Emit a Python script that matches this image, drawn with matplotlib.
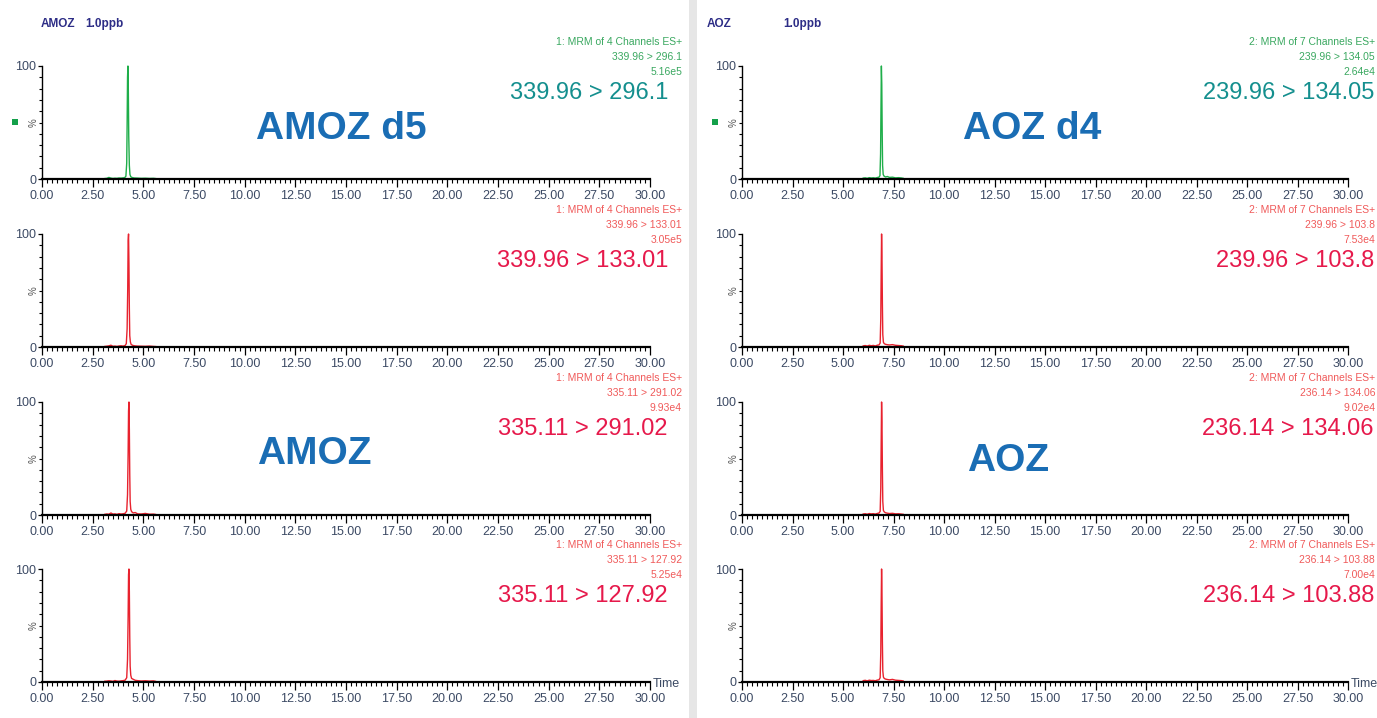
import numpy as np
import matplotlib
matplotlib.use("Agg")
import matplotlib.pyplot as plt
from matplotlib.patches import Rectangle
from matplotlib.ticker import MultipleLocator

plt.rcParams['font.family'] = ['Liberation Sans', 'DejaVu Sans']

# ---- data (time in min, intensity in %) ----
amoz_d5_t = [3.10, 3.20, 3.30, 3.40, 3.50, 3.60, 3.70, 3.80, 3.90, 4.00, 4.08, 4.14, 4.18, 4.20,
             4.22, 4.24, 4.26, 4.28, 4.31, 4.34, 4.38, 4.45, 4.55, 4.70, 4.90, 5.10, 5.30, 5.50, 5.60]
amoz_d5_y = [0.4, 0.6, 1.4, 0.8, 0.5, 0.7, 0.6, 0.9, 0.8, 1.0, 1.2, 2.5, 14, 48,
             90, 100, 78, 38, 12, 4.0, 2.0, 1.3, 0.9, 0.8, 0.6, 0.7, 0.5, 0.6, 0.4]

amoz_d5_q_t = [3.10, 3.20, 3.30, 3.40, 3.50, 3.60, 3.70, 3.80, 3.90, 4.00, 4.10, 4.16, 4.20, 4.23,
               4.25, 4.27, 4.29, 4.31, 4.33, 4.36, 4.40, 4.48, 4.58, 4.70, 4.90, 5.10, 5.30, 5.50, 5.60]
amoz_d5_q_y = [0.5, 0.7, 1.0, 1.6, 0.6, 0.8, 0.5, 0.9, 1.1, 0.8, 1.3, 3.0, 16, 52,
               94, 100, 74, 34, 10, 4.5, 2.2, 1.4, 1.0, 0.8, 0.7, 0.6, 0.8, 0.5, 0.4]

amoz_t = [3.10, 3.20, 3.30, 3.40, 3.50, 3.60, 3.70, 3.80, 3.90, 4.00, 4.10, 4.18, 4.22, 4.25,
          4.27, 4.29, 4.31, 4.33, 4.35, 4.38, 4.42, 4.50, 4.60, 4.72, 4.90, 5.10, 5.30, 5.50, 5.60]
amoz_y = [0.6, 0.9, 0.7, 1.8, 0.8, 1.0, 0.6, 1.2, 0.9, 1.1, 1.5, 3.5, 18, 55,
          92, 100, 76, 36, 12, 5.0, 3.0, 1.8, 2.2, 1.0, 0.9, 1.4, 0.7, 0.8, 0.5]

amoz_q_t = [3.10, 3.20, 3.30, 3.40, 3.50, 3.60, 3.70, 3.80, 3.90, 4.00, 4.10, 4.18, 4.22, 4.25,
            4.27, 4.29, 4.31, 4.33, 4.35, 4.38, 4.42, 4.50, 4.60, 4.72, 4.90, 5.10, 5.30, 5.50, 5.60]
amoz_q_y = [0.7, 0.8, 1.1, 0.9, 0.6, 1.3, 0.8, 0.7, 1.0, 1.2, 1.6, 3.8, 20, 58,
            95, 100, 80, 40, 14, 6.0, 3.2, 2.4, 1.5, 1.2, 0.9, 1.1, 0.8, 1.0, 0.6]

aoz_d4_t = [6.00, 6.10, 6.20, 6.30, 6.40, 6.50, 6.60, 6.70, 6.78, 6.83, 6.86, 6.88, 6.90, 6.92,
            6.94, 6.96, 6.99, 7.03, 7.10, 7.20, 7.30, 7.45, 7.60, 7.75, 7.90, 7.98]
aoz_d4_y = [0.8, 1.0, 0.6, 1.2, 0.9, 1.1, 0.8, 1.3, 1.6, 3.0, 22, 62, 100, 84,
            42, 12, 4.0, 2.6, 1.8, 2.2, 1.4, 1.6, 1.0, 1.2, 0.9, 0.6]

aoz_d4_q_t = [6.00, 6.10, 6.20, 6.30, 6.40, 6.50, 6.60, 6.70, 6.78, 6.84, 6.87, 6.89, 6.91, 6.93,
              6.95, 6.97, 7.00, 7.04, 7.10, 7.20, 7.30, 7.45, 7.60, 7.75, 7.90, 7.98]
aoz_d4_q_y = [1.0, 1.3, 0.8, 1.5, 1.1, 1.4, 0.9, 1.6, 1.8, 3.5, 25, 66, 100, 80,
              38, 11, 4.2, 3.0, 2.4, 2.0, 1.8, 2.1, 1.5, 1.3, 1.1, 0.8]

aoz_t = [6.00, 6.10, 6.20, 6.30, 6.40, 6.50, 6.60, 6.70, 6.78, 6.84, 6.87, 6.89, 6.91, 6.93,
         6.95, 6.97, 7.00, 7.04, 7.10, 7.20, 7.30, 7.45, 7.60, 7.75, 7.90, 7.98]
aoz_y = [0.9, 1.1, 0.7, 1.3, 1.0, 1.2, 0.8, 1.4, 1.7, 3.2, 24, 64, 100, 82,
         40, 12, 4.0, 2.8, 2.0, 1.6, 1.3, 1.5, 1.0, 1.1, 0.8, 0.6]

aoz_q_t = [6.00, 6.10, 6.20, 6.30, 6.40, 6.50, 6.60, 6.70, 6.78, 6.84, 6.87, 6.89, 6.91, 6.93,
           6.95, 6.97, 7.00, 7.04, 7.10, 7.20, 7.30, 7.45, 7.60, 7.75, 7.90, 7.98]
aoz_q_y = [1.2, 1.5, 1.0, 1.6, 1.3, 1.4, 1.1, 1.7, 1.9, 3.8, 26, 68, 100, 78,
           36, 10, 4.4, 3.2, 2.6, 2.2, 1.9, 2.3, 1.6, 1.4, 1.2, 0.9]

left_traces = [(amoz_d5_t, amoz_d5_y), (amoz_d5_q_t, amoz_d5_q_y), (amoz_t, amoz_y), (amoz_q_t, amoz_q_y)]
right_traces = [(aoz_d4_t, aoz_d4_y), (aoz_d4_q_t, aoz_d4_q_y), (aoz_t, aoz_y), (aoz_q_t, aoz_q_y)]

left_channel = "1: MRM of 4 Channels ES+"
right_channel = "2: MRM of 7 Channels ES+"
left_transitions = ["339.96 > 296.1", "339.96 > 133.01", "335.11 > 291.02", "335.11 > 127.92"]
right_transitions = ["239.96 > 134.05", "239.96 > 103.8", "236.14 > 134.06", "236.14 > 103.88"]
left_scales = ["5.16e5", "3.05e5", "9.93e4", "5.25e4"]
right_scales = ["2.64e4", "7.53e4", "9.02e4", "7.00e4"]

# ---- layout (pixels) ----
W, H = 1377, 718
row_top = [66, 234, 402, 569]
row_bot = [179, 347, 515, 682]
col_x = [(42, 650), (742, 1348)]
small_right = [682, 1375]
big_right = [668, 1374]

GREEN = '#1fae4a'
RED = '#e8222e'
SMALL_GREEN = '#3aa860'
SMALL_RED = '#f05a5a'
TEAL = '#148f8e'
CRIMSON = '#e6194b'
BLUE = '#1a6db4'
NAVY = '#2d2d86'
TICK = '#3c4a64'


def fx(x):
    return x / W


def fy(y):
    return 1 - y / H


fig = plt.figure(figsize=(W / 100, H / 100), dpi=100)
fig.patch.set_facecolor('white')

# grey divider between the two halves
fig.patches.append(Rectangle((fx(689), 0), fx(8), 1, transform=fig.transFigure,
                             facecolor='#e6e6e6', edgecolor='none', zorder=0))

# titles
fig.text(fx(41), fy(24), "AMOZ", color=NAVY, fontsize=8.5, fontweight='bold', va='center')
fig.text(fx(85), fy(24), "1.0ppb", color=NAVY, fontsize=8.5, fontweight='bold', va='center')
fig.text(fx(707), fy(24), "AOZ", color=NAVY, fontsize=8.5, fontweight='bold', va='center')
fig.text(fx(783), fy(24), "1.0ppb", color=NAVY, fontsize=8.5, fontweight='bold', va='center')

for c, (traces, channel, transitions, scales) in enumerate(
        [(left_traces, left_channel, left_transitions, left_scales),
         (right_traces, right_channel, right_transitions, right_scales)]):
    x0, x1 = col_x[c]
    for r in range(4):
        top, bot = row_top[r], row_bot[r]
        ax = fig.add_axes([fx(x0), fy(bot), (x1 - x0) / W, (bot - top) / H])
        t, y = traces[r]
        ax.plot(t, y, color=GREEN if r == 0 else RED, lw=1.0, clip_on=False)
        ax.set_xlim(0, 30)
        ax.set_ylim(0, 100)
        ax.patch.set_alpha(0)
        for s in ['top', 'right']:
            ax.spines[s].set_visible(False)
        ax.spines['left'].set_linewidth(1.0)
        ax.spines['bottom'].set_linewidth(1.6)
        ax.xaxis.set_major_locator(MultipleLocator(2.5))
        ax.xaxis.set_minor_locator(MultipleLocator(0.25))
        ax.set_yticks([0, 100])
        ax.yaxis.set_minor_locator(MultipleLocator(10))
        ax.set_xticklabels(["%.2f" % v for v in ax.get_xticks()])
        ax.tick_params(axis='x', which='major', length=6, width=0.9, pad=2,
                       labelsize=9, labelcolor=TICK)
        ax.tick_params(axis='x', which='minor', length=3, width=0.8)
        ax.tick_params(axis='y', which='major', length=3, width=0.9, pad=1,
                       labelsize=9, labelcolor=TICK)
        ax.tick_params(axis='y', which='minor', length=2, width=0.8)

        small_col = SMALL_GREEN if r == 0 else SMALL_RED
        tx = small_right[c]
        fig.text(fx(tx), fy(top - 24), channel, color=small_col, fontsize=7.5,
                 ha='right', va='center')
        fig.text(fx(tx), fy(top - 9), transitions[r], color=small_col, fontsize=7.5,
                 ha='right', va='center')
        fig.text(fx(tx), fy(top + 6), scales[r], color=small_col, fontsize=7.5,
                 ha='right', va='center')

        fig.text(fx(big_right[c]), fy(top + 27), transitions[r],
                 color=TEAL if r == 0 else CRIMSON,
                 fontsize=17, ha='right', va='center')

        fig.text(fx(x0 - 8), fy((top + bot) / 2), "%", color='#555555', fontsize=7,
                 rotation=90, ha='center', va='center')
        if r == 0:
            fig.patches.append(Rectangle((fx(x0 - 30), fy(125)), fx(6), 6 / H,
                                         transform=fig.transFigure, facecolor='#14a04a',
                                         edgecolor='none'))
        if r == 3:
            fig.text(fx(x1 + 3), fy(bot + 2), "Time", color=TICK, fontsize=9,
                     ha='left', va='center')

# compound names
fig.text(fx(341), fy(129), "AMOZ d5", color=BLUE, fontsize=28, fontweight='bold',
         ha='center', va='center')
fig.text(fx(1032), fy(129), "AOZ d4", color=BLUE, fontsize=28, fontweight='bold',
         ha='center', va='center')
fig.text(fx(314), fy(454), "AMOZ", color=BLUE, fontsize=28, fontweight='bold',
         ha='center', va='center')
fig.text(fx(1008), fy(461), "AOZ", color=BLUE, fontsize=28, fontweight='bold',
         ha='center', va='center')

fig.savefig("out.png", dpi=100)
